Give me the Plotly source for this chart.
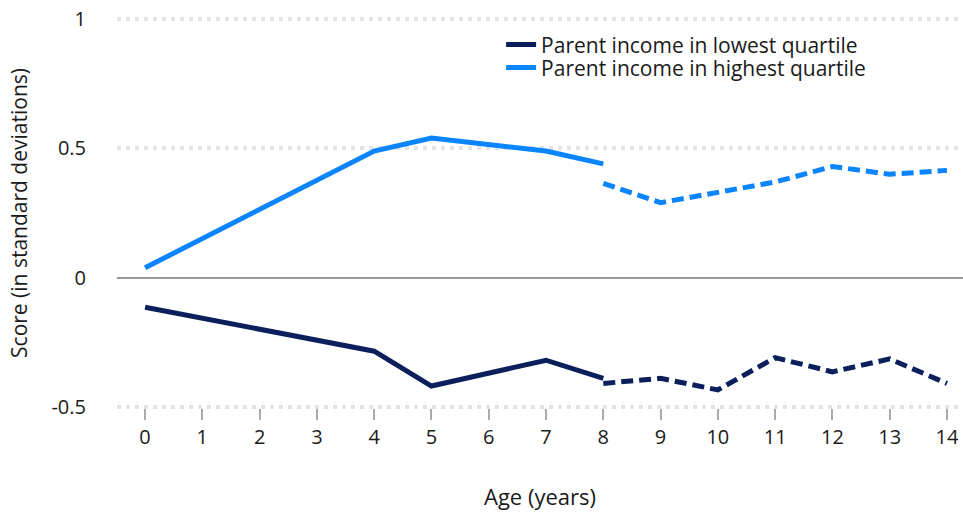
import plotly.graph_objects as go

# Data
ages_early = [0, 4, 5, 7, 8]
ages_late = [8, 9, 10, 11, 12, 13, 14]
low_early = [-0.115, -0.285, -0.42, -0.32, -0.39]
low_late = [-0.41, -0.39, -0.435, -0.31, -0.365, -0.315, -0.41]
high_early = [0.038, 0.49, 0.54, 0.49, 0.44]
high_late = [0.365, 0.29, 0.33, 0.37, 0.43, 0.40, 0.415]
x_ticks = list(range(0, 15))
y_ticks = [-0.5, 0, 0.5, 1]
y_ticklabels = ["-0.5", "0", "0.5", "1"]

DARK = "#0b1f5c"
LIGHT = "#0a84ff"
FONT = "Open Sans"
TXT = "#1a1a1a"

fig = go.Figure()
fig.add_trace(go.Scatter(x=ages_early, y=low_early, mode="lines", name="Parent income in lowest quartile",
                         line=dict(color=DARK, width=5), legendgroup="low", legend="legend"))
fig.add_trace(go.Scatter(x=ages_early, y=high_early, mode="lines", name="Parent income in highest quartile",
                         line=dict(color=LIGHT, width=5), legendgroup="high", legend="legend2"))
fig.add_trace(go.Scatter(x=ages_late, y=low_late, mode="lines", showlegend=False,
                         line=dict(color=DARK, width=5, dash="12px,6px"), legendgroup="low"))
fig.add_trace(go.Scatter(x=ages_late, y=high_late, mode="lines", showlegend=False,
                         line=dict(color=LIGHT, width=5, dash="12px,6px"), legendgroup="high"))

leg_common = dict(xanchor="left", yanchor="middle", bgcolor="rgba(0,0,0,0)",
                  font=dict(size=21, color=TXT), itemwidth=30)

fig.update_layout(
    width=963, height=515,
    margin=dict(l=117, r=0, t=18, b=107),
    paper_bgcolor="white", plot_bgcolor="white",
    font=dict(family=FONT, size=20, color=TXT),
    showlegend=True,
    legend=dict(x=0.454, y=0.931, **leg_common),
    legend2=dict(x=0.454, y=0.872, **leg_common),
    xaxis=dict(range=[-0.49, 14.28], tickmode="array", tickvals=x_ticks,
               ticks="outside", ticklen=11, tickwidth=2, tickcolor="#aaaaaa",
               showgrid=False, zeroline=False, showline=False, automargin=False,
               title=dict(text="Age (years)", standoff=40, font=dict(size=22)),
               tickfont=dict(size=20)),
    yaxis=dict(range=[-0.505, 1.005], tickmode="array", tickvals=y_ticks, ticktext=y_ticklabels,
               showgrid=True, gridcolor="#e3e3e3", gridwidth=4, griddash="4px,5px",
               zeroline=True, zerolinecolor="#999999", zerolinewidth=2,
               showline=False, ticks="", ticklabelstandoff=30, automargin=False,
               title=dict(text="Score (in standard deviations)", standoff=18, font=dict(size=21)),
               tickfont=dict(size=20)),
)

fig.write_html("out.html", config={"displayModeBar": False},
               post_script="document.body.style.margin='0px';")
